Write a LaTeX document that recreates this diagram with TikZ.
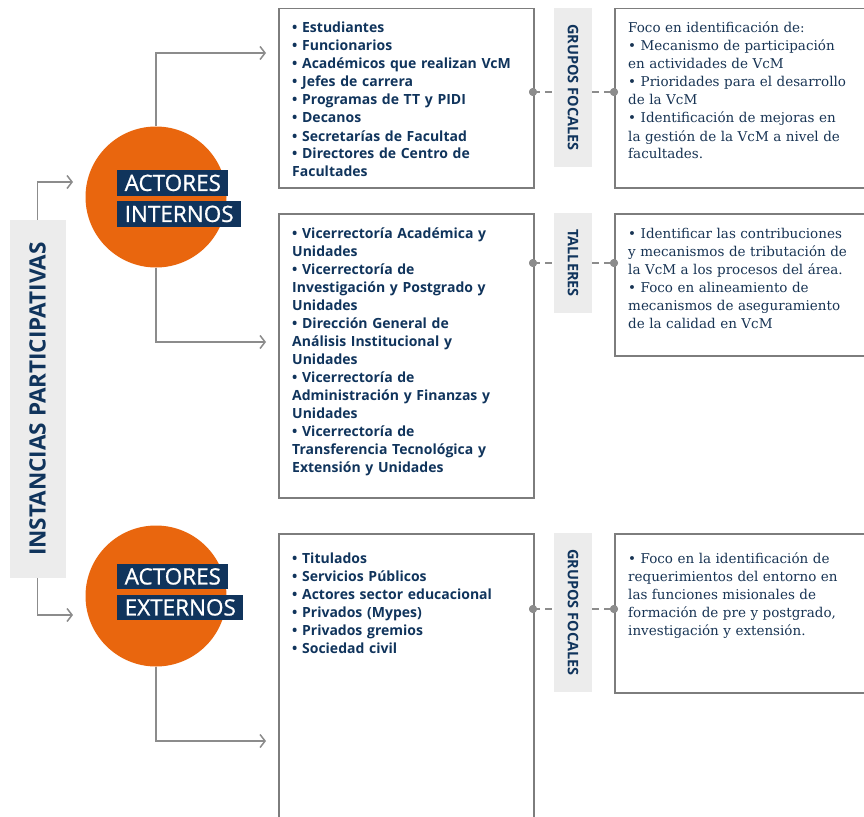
\documentclass[tikz,border=0pt]{standalone}
\usepackage{fontspec}
\setmainfont{Open Sans}
\newfontfamily\slab{DejaVu Serif}
\newfontfamily\tagfont{Open Sans}[FakeBold=0.9]
\usetikzlibrary{arrows.meta,calc}
\definecolor{navy}{RGB}{16,52,92}
\definecolor{orng}{RGB}{233,102,14}
\definecolor{lgray}{RGB}{236,236,236}
\definecolor{lnk}{RGB}{140,140,140}
\definecolor{bord}{RGB}{125,125,125}
\definecolor{txt}{RGB}{24,52,84}
\begin{document}
\begin{tikzpicture}[x=1pt,y=-1pt,
  conn/.style={draw=lnk,line width=1.5pt,-{Straight Barb[length=5pt,width=13pt]}},
  dsh/.style={draw=lnk,line width=2pt,dash pattern=on 7pt off 5pt},
  dotn/.style={circle,fill=lnk,inner sep=0pt,minimum size=8pt},
  boxn/.style={draw=bord,line width=1.5pt,fill=white,inner sep=0pt,anchor=north west},
  lst/.style={anchor=base west,inner sep=0pt,align=left,text width=250pt,text=navy,font=\fontsize{14}{18}\selectfont\bfseries},
  slb/.style={anchor=base west,inner sep=0pt,align=left,text width=250pt,text=txt,font=\slab\fontsize{13.5}{18}\selectfont},
  lab/.style={fill=lgray,text=navy,inner sep=0pt,font=\fontsize{14.5}{15}\selectfont\bfseries},
  tag/.style={fill=navy,text=white,anchor=north west,inner xsep=7.5pt,inner ysep=0pt,text height=16pt,text depth=0pt,minimum height=25.5pt,font=\tagfont\fontsize{22.5}{22}\selectfont},
  orb/.style={circle,fill=orng,inner sep=0pt,minimum size=141pt}
]
\clip (0,0) rectangle (864,816);
\fill[white] (0,0) rectangle (864,816);

% left vertical label
\node[lab,rotate=90,minimum width=358pt,minimum height=56pt,font=\fontsize{22.5}{22}\selectfont\bfseries] (inst) at (37.5,399) {INSTANCIAS PARTICIPATIVAS};

% circles
\node[orb] (c1) at (156,197) {};
\node[orb] (c2) at (156,596) {};
\node[tag] (t1a) at (117,170) {ACTORES};
\node[tag] (t1b) at (117,201) {INTERNOS};
\node[tag] (t2a) at (117,563.5) {ACTORES};
\node[tag] (t2b) at (117,594.5) {EXTERNOS};

% arrow end points
\coordinate (a1) at (73,182);
\coordinate (a2) at (73,615);
\coordinate (b1) at (266,53);
\coordinate (b2) at (266,342);
\coordinate (b3) at (266,741);

\draw[conn] (inst.east) |- (a1);
\draw[conn] (inst.west) |- (a2);
\draw[conn] (c1.north) |- (b1);
\draw[conn] (c1.south) |- (b2);
\draw[conn] (c2.south) |- (b3);

% boxes
\node[boxn,minimum width=255pt,minimum height=179pt] (box1) at (278,8) {};
\node[boxn,minimum width=255pt,minimum height=284pt] (box2) at (278,213) {};
\node[boxn,minimum width=255pt,minimum height=320pt] (box3) at (278,533) {};
\node[boxn,minimum width=262pt,minimum height=179pt] (r1) at (614,8) {};
\node[boxn,minimum width=262pt,minimum height=142pt] (r2) at (614,213) {};
\node[boxn,minimum width=262pt,minimum height=159pt] (r3) at (614,533) {};

% rotated labels
\node[lab,rotate=-90,minimum width=159pt,minimum height=38pt] (g1) at (573,87.5) {GRUPOS FOCALES};
\node[lab,rotate=-90,minimum width=100pt,minimum height=38pt] (g2) at (573,263) {TALLERES};
\node[lab,rotate=-90,minimum width=159pt,minimum height=38pt] (g3) at (573,612.5) {GRUPOS FOCALES};

% dashed links
\node[dotn] (p1) at (533,92) {};
\node[dotn] (q1) at (614,92) {};
\node[dotn] (p2) at (533,263) {};
\node[dotn] (q2) at (614,263) {};
\node[dotn] (p3) at (533,609) {};
\node[dotn] (q3) at (614,609) {};
\draw[dsh] (p1.center) -- (g1.south |- p1);
\draw[dsh] (g1.north |- q1) -- (q1.center);
\draw[dsh] (p2.center) -- (g2.south |- p2);
\draw[dsh] (g2.north |- q2) -- (q2.center);
\draw[dsh] (p3.center) -- (g3.south |- p3);
\draw[dsh] (g3.north |- q3) -- (q3.center);
\foreach \d in {p1,q1,p2,q2,p3,q3} \fill[lnk] (\d) circle (4pt);

% texts
\node[lst] (l1) at (292,33) {\textbullet\ Estudiantes\\
\textbullet\ Funcionarios\\
\textbullet\ Académicos que realizan VcM\\
\textbullet\ Jefes de carrera\\
\textbullet\ Programas de TT y PIDI\\
\textbullet\ Decanos\\
\textbullet\ Secretarías de Facultad\\
\textbullet\ Directores de Centro de\\
Facultades};

\node[lst] (l2) at (292,238) {\textbullet\ Vicerrectoría Académica y\\
Unidades\\
\textbullet\ Vicerrectoría de\\
Investigación y Postgrado y\\
Unidades\\
\textbullet\ Dirección General de\\
Análisis Institucional y\\
Unidades\\
\textbullet\ Vicerrectoría de\\
Administración y Finanzas y\\
Unidades\\
\textbullet\ Vicerrectoría de\\
Transferencia Tecnológica y\\
Extensión y Unidades};

\node[lst] (l3) at (292,563) {\textbullet\ Titulados\\
\textbullet\ Servicios Públicos\\
\textbullet\ Actores sector educacional\\
\textbullet\ Privados (Mypes)\\
\textbullet\ Privados gremios\\
\textbullet\ Sociedad civil};

\node[slb] (s1) at (628,33) {Foco en identificación de:\\
\textbullet\ Mecanismo de participación\\
en actividades de VcM\\
\textbullet\ Prioridades para el desarrollo\\
de la VcM\\
\textbullet\ Identificación de mejoras en\\
la gestión de la VcM a nivel de\\
facultades.};

\node[slb] (s2) at (628,238) {\textbullet\ Identificar las contribuciones\\
y mecanismos de tributación de\\
la VcM a los procesos del área.\\
\textbullet\ Foco en alineamiento de\\
mecanismos de aseguramiento\\
de la calidad en VcM};

\node[slb] (s3) at (628,563) {\textbullet\ Foco en la identificación de\\
requerimientos del entorno en\\
las funciones misionales de\\
formación de pre y postgrado,\\
investigación y extensión.};
\end{tikzpicture}
\end{document}
